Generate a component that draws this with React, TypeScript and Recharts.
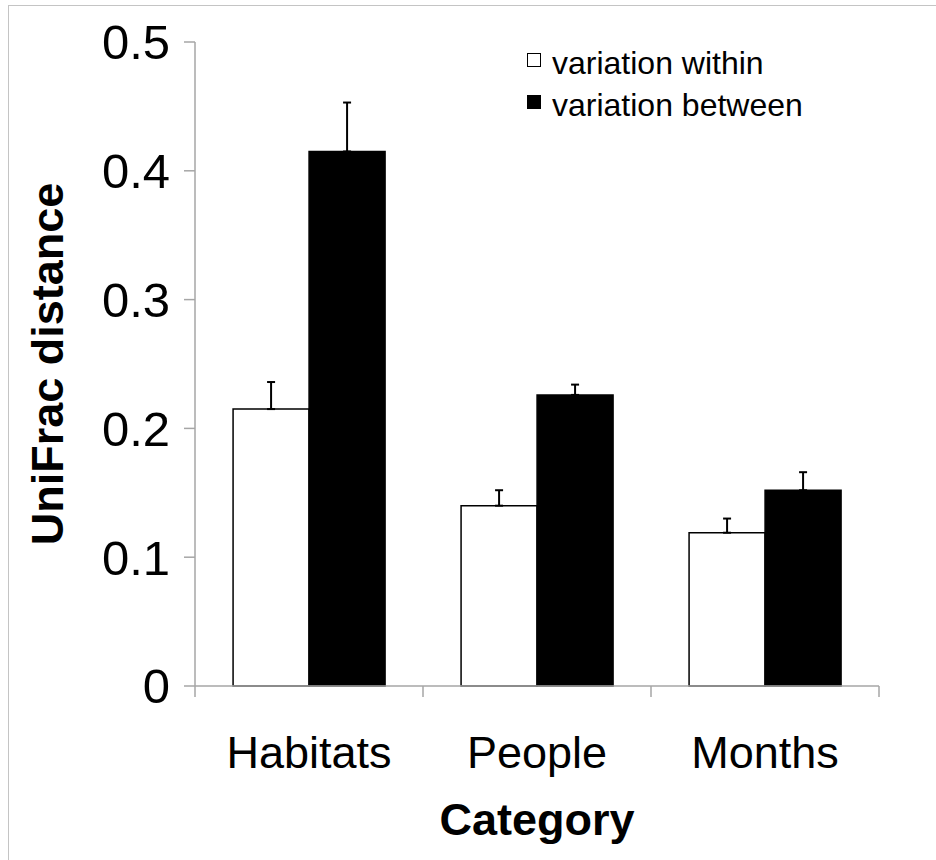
import React from 'react';
import { BarChart, Bar, XAxis, YAxis, ErrorBar } from 'recharts';

const categories = ['Habitats', 'People', 'Months'];
const withinValues = [0.215, 0.14, 0.119];
const withinErrors = [0.021, 0.012, 0.011];
const betweenValues = [0.415, 0.226, 0.152];
const betweenErrors = [0.038, 0.008, 0.014];
const yTicks = [0, 0.1, 0.2, 0.3, 0.4, 0.5];

const seriesNames = ['variation within', 'variation between'];
const seriesFills = ['#ffffff', '#000000'];

const FONT = '"Liberation Sans", Arial, Helvetica, sans-serif';
const AXIS_GRAY = '#a6a6a6';

const data = categories.map((c, i) => ({
  category: c,
  within: withinValues[i],
  withinErr: [0, withinErrors[i]],
  between: betweenValues[i],
  betweenErr: [0, betweenErrors[i]],
}));

// legend drawn as html on top of the chart, so it takes no room from the plot
const LegendBox = () => (
  <div style={{ position: 'absolute', left: 527, top: 42, fontFamily: FONT, fontSize: 32, lineHeight: '42px', color: '#000' }}>
    {seriesNames.map((name, i) => (
      <div key={name} style={{ position: 'relative', paddingLeft: 25, whiteSpace: 'nowrap' }}>
        <span
          style={{
            position: 'absolute',
            left: 0,
            top: 11,
            width: 14,
            height: 14,
            boxSizing: 'border-box',
            background: seriesFills[i],
            border: '1.5px solid #000',
          }}
        />
        {name}
      </div>
    ))}
  </div>
);

// category label plus tick marks on the band edges
const CategoryTick = (props: any) => {
  const { x, y, payload, index, width, visibleTicksCount } = props;
  const half = payload && payload.offset > 0 ? payload.offset : width / visibleTicksCount / 2;
  const last = index === visibleTicksCount - 1;
  return (
    <g>
      <line x1={x - half} x2={x - half} y1={y} y2={y + 11} stroke={AXIS_GRAY} strokeWidth={1.5} />
      {last && <line x1={x + half} x2={x + half} y1={y} y2={y + 11} stroke={AXIS_GRAY} strokeWidth={1.5} />}
      <text x={x} y={y + 50} dy="0.71em" textAnchor="middle" fontFamily={FONT} fontSize={45} fill="#000">
        {payload.value}
      </text>
    </g>
  );
};

const YLabel = ({ viewBox }: any) => {
  const x = viewBox.x + 47;
  const y = viewBox.y + viewBox.height / 2;
  return (
    <text
      x={x}
      y={y}
      transform={`rotate(-90, ${x}, ${y})`}
      textAnchor="middle"
      dominantBaseline="central"
      fontFamily={FONT}
      fontSize={45}
      fontWeight="bold"
      fill="#000"
    >
      UniFrac distance
    </text>
  );
};

export default function App() {
  return (
    <div style={{ position: 'absolute', left: 0, top: 0, width: 936, height: 860, overflow: 'hidden', background: '#fff', fontFamily: FONT }}>
      <div style={{ position: 'absolute', left: 8, top: 5, width: 940, height: 870, border: '1px solid #c4c4c4' }} />
      <BarChart
        width={936}
        height={860}
        data={data}
        margin={{ top: 42, right: 57, bottom: 0, left: 0 }}
        barCategoryGap="16.7%"
        barGap={0}
      >
        <XAxis
          dataKey="category"
          height={174}
          axisLine={{ stroke: AXIS_GRAY, strokeWidth: 1.5 }}
          tickLine={false}
          tickSize={0}
          tickMargin={0}
          tick={<CategoryTick />}
          label={{
            value: 'Category',
            position: 'insideBottom',
            offset: 25,
            fill: '#000',
            fontSize: 45,
            fontWeight: 'bold',
            fontFamily: FONT,
          }}
        />
        <YAxis
          width={195}
          domain={[0, 0.5]}
          ticks={yTicks}
          tickFormatter={(v: number) => String(v)}
          tickSize={11}
          tickMargin={14}
          axisLine={{ stroke: AXIS_GRAY, strokeWidth: 1.5 }}
          tickLine={{ stroke: AXIS_GRAY, strokeWidth: 1.5 }}
          tick={{ fill: '#000', fontSize: 49, fontFamily: FONT }}
          label={<YLabel />}
        />
        <Bar
          dataKey="within"
          name={seriesNames[0]}
          fill={seriesFills[0]}
          stroke="#000"
          strokeWidth={1.5}
          isAnimationActive={false}
        >
          <ErrorBar dataKey="withinErr" direction="y" width={4} stroke="#000" strokeWidth={2} isAnimationActive={false} />
        </Bar>
        <Bar
          dataKey="between"
          name={seriesNames[1]}
          fill={seriesFills[1]}
          stroke="#000"
          strokeWidth={1.5}
          isAnimationActive={false}
        >
          <ErrorBar dataKey="betweenErr" direction="y" width={4} stroke="#000" strokeWidth={2} isAnimationActive={false} />
        </Bar>
      </BarChart>
      <LegendBox />
    </div>
  );
}
